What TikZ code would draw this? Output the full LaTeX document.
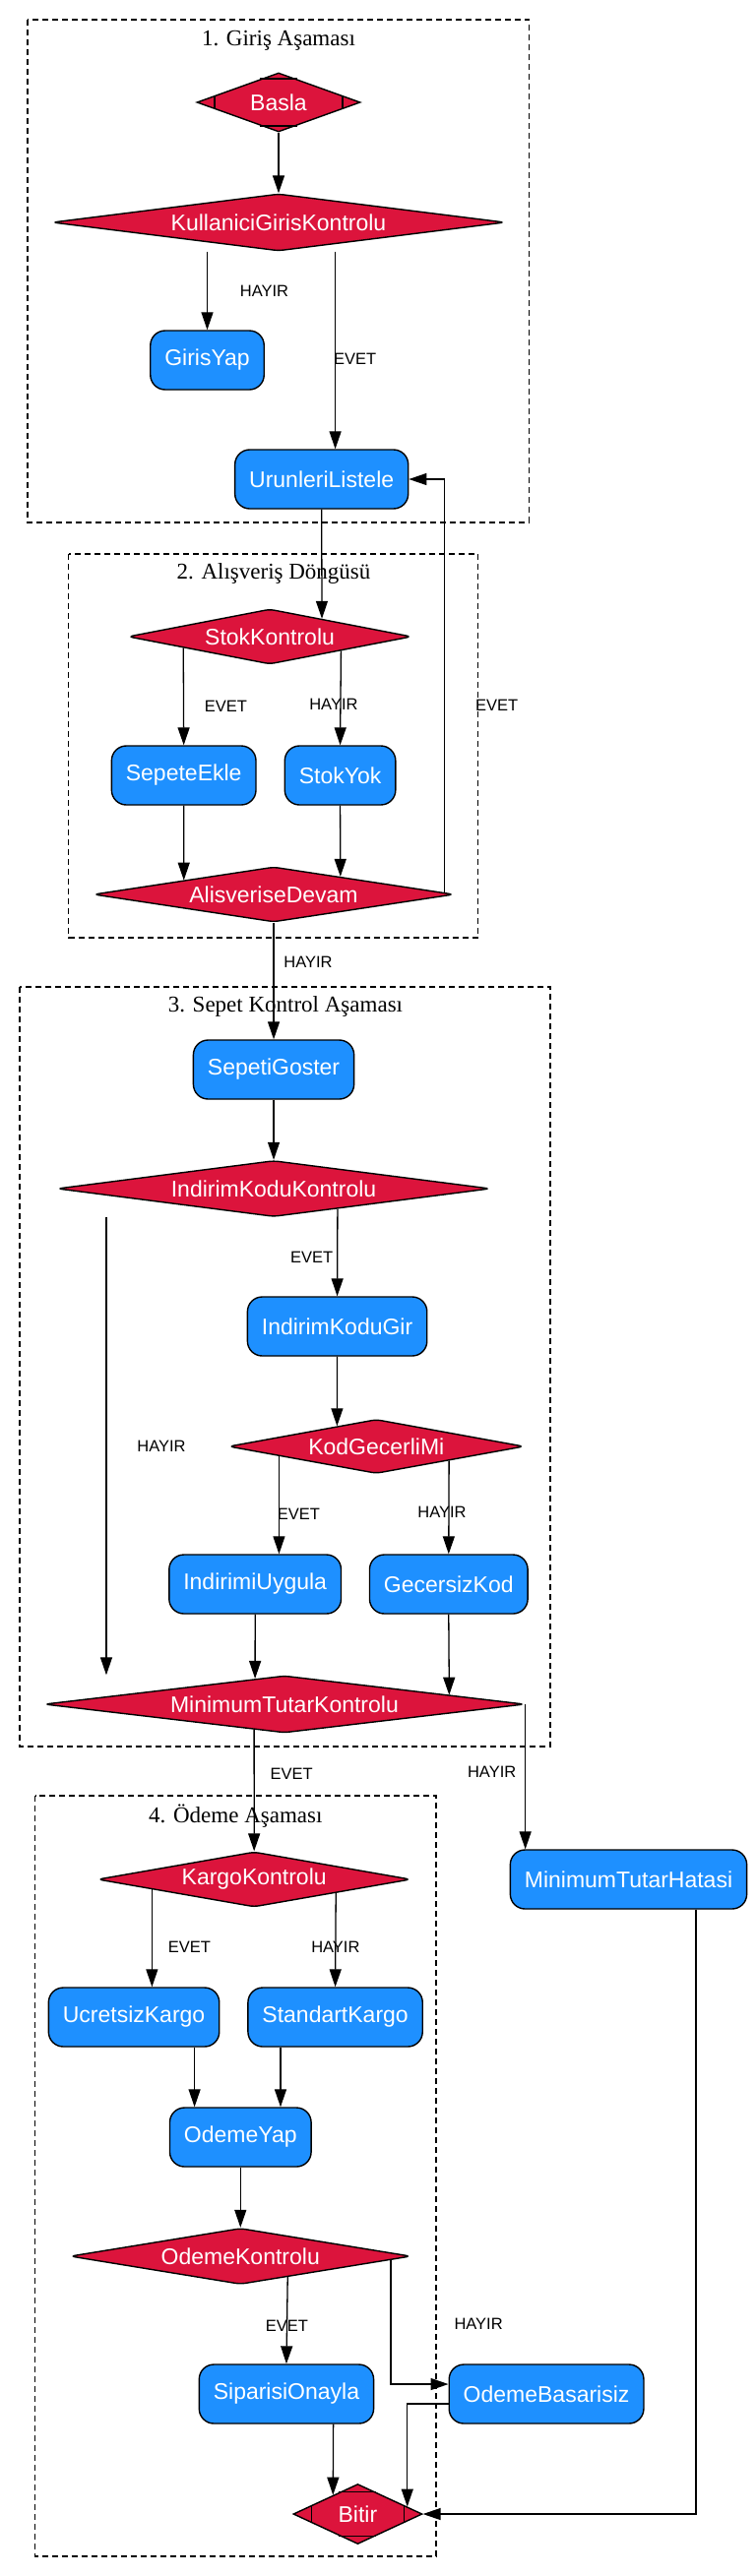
\documentclass[tikz,border=0pt]{standalone}
\usepackage{fontspec}
\setmainfont{Liberation Serif}
\setsansfont{Liberation Sans}
\usepackage{xcolor}
\usetikzlibrary{shapes.geometric}
\usetikzlibrary{arrows.meta}
\usetikzlibrary{calc}

\definecolor{kirmizi}{HTML}{DC143C}
\definecolor{mavi}{HTML}{1E90FF}

\begin{document}
\begin{tikzpicture}[x=0.993pt, y=-1pt,
  every node/.style={font=\sffamily\fontsize{23}{26}\selectfont},
  box/.style={rectangle, rounded corners=15pt, draw=black, line width=1.4pt, fill=mavi, text=white, inner xsep=14.5pt, minimum height=60pt},
  karar/.style={diamond, rounded corners=5pt, draw=black, line width=1.4pt, fill=kirmizi, text=white, inner sep=0pt},
  ucnokta/.style={diamond, draw=black, line width=1.4pt, fill=kirmizi, text=white, inner sep=0pt},
  grup/.style={draw=black, dashed, dash pattern=on 6pt off 4pt, line width=1.4pt},
  baslik/.style={font=\rmfamily\fontsize{23}{26}\selectfont},
  etiket/.style={font=\sffamily\fontsize{16.5}{19}\selectfont, inner sep=0pt},
  ok/.style={line width=1.3pt, -{Triangle[length=18pt, width=12pt]}}]
  \useasboundingbox (0,0) rectangle (773.4,2618);

  % asama kutulari
  \draw[grup] (28,20) rectangle (541,531);
  \draw[grup] (70,563) rectangle (489,953);
  \draw[grup] (20,1003) rectangle (563,1775);
  \draw[grup] (36,1825) rectangle (446,2598);
  \node[baslik] (b1) at (285,41) {1. Giriş Aşaması};
  \node[baslik] (b2) at (280,583) {2. Alışveriş Döngüsü};
  \node[baslik] (b3) at (292,1023) {3. Sepet Kontrol Aşaması};
  \node[baslik] (b4) at (241,1846) {4. Ödeme Aşaması};

  % 1. giris
  \node[ucnokta, minimum width=166pt, minimum height=60pt, aspect=2.8] (basla) at (285,104) {Basla};
  \node[karar, minimum width=460pt, minimum height=58pt, aspect=8] (kgk) at (285,226) {KullaniciGirisKontrolu};
  \node[box] (girisyap) at (212,366) {GirisYap};
  \node[box] (urun) at (329,487) {UrunleriListele};
  % 2. alisveris
  \node[karar, minimum width=288pt, minimum height=56pt, aspect=5.2] (stok) at (276,647) {StokKontrolu};
  \node[box] (sepete) at (188,788) {SepeteEkle};
  \node[box] (stokyok) at (348,788) {StokYok};
  \node[karar, minimum width=366pt, minimum height=56pt, aspect=6.6] (devam) at (280,909) {AlisveriseDevam};
  % 3. sepet
  \node[box] (sepeti) at (280,1087) {SepetiGoster};
  \node[karar, minimum width=440pt, minimum height=57pt, aspect=7.8] (ikk) at (280,1208) {IndirimKoduKontrolu};
  \node[box] (ikgir) at (345,1348) {IndirimKoduGir};
  \node[karar, minimum width=300pt, minimum height=55pt, aspect=5.5] (kgm) at (385,1470) {KodGecerliMi};
  \node[box] (uygula) at (261,1610) {IndirimiUygula};
  \node[box] (gecersiz) at (459,1610) {GecersizKod};
  \node[karar, minimum width=488pt, minimum height=58pt, aspect=8.5] (mtk) at (291,1732) {MinimumTutarKontrolu};
  \node[box] (hata) at (643,1910) {MinimumTutarHatasi};
  % 4. odeme
  \node[karar, minimum width=318pt, minimum height=56pt, aspect=5.7] (kargo) at (260,1910) {KargoKontrolu};
  \node[box] (ucretsiz) at (137,2050) {UcretsizKargo};
  \node[box] (standart) at (343,2050) {StandartKargo};
  \node[box] (odemeyap) at (246,2172) {OdemeYap};
  \node[karar, minimum width=346pt, minimum height=57pt, aspect=6.1] (odemek) at (246,2293) {OdemeKontrolu};
  \node[box] (onayla) at (293,2433) {SiparisiOnayla};
  \node[box] (basarisiz) at (559,2433) {OdemeBasarisiz};
  \node[ucnokta, minimum width=131pt, minimum height=61pt, aspect=2.2] (bitir) at (366,2555) {Bitir};

  % baslangic ve bitis koseleri
  \foreach \n/\d in {basla/20pt, bitir/21pt} {
    \draw[line width=1.4pt] ($(\n.north)!\d!(\n.west)$) -- ($(\n.north)!\d!(\n.east)$);
    \draw[line width=1.4pt] ($(\n.south)!\d!(\n.west)$) -- ($(\n.south)!\d!(\n.east)$);
    \draw[line width=1.4pt] ($(\n.west)!\d!(\n.north)$) -- ($(\n.west)!\d!(\n.south)$);
    \draw[line width=1.4pt] ($(\n.east)!\d!(\n.north)$) -- ($(\n.east)!\d!(\n.south)$);
  }

  % baglantilar
  \draw[ok] (basla) -- (kgk);
  \draw[ok] (girisyap.north |- kgk.south) -- (girisyap) node[etiket, midway, xshift=58pt] (e1) {HAYIR};
  \coordinate (k1) at ($(urun.north)+(14,0)$);
  \draw[ok] (k1 |- kgk.south) -- (k1) node[etiket, pos=.545, xshift=20pt] (e2) {EVET};
  \draw[ok] (urun.south) -- ($(stok.north)!.366!(stok.east)$);
  \draw[ok] ($(stok.south)!.607!(stok.west)$) -- (sepete.north) node[etiket, pos=.6, xshift=43pt] (e3) {EVET};
  \draw[ok] ($(stok.south)!.5!(stok.east)$) -- (stokyok.north) node[etiket, pos=.57, xshift=-7pt] (e4) {HAYIR};
  \draw[ok] (sepete.south) -- ($(devam.north)!.497!(devam.west)$);
  \draw[ok] (stokyok.south) -- ($(devam.north)!.369!(devam.east)$);
  \draw[ok] ($(devam.east)!.055!(devam.north)$) |- (urun.east) node[etiket, pos=.227, xshift=53pt] (e5) {EVET};
  \draw[ok] (devam) -- (sepeti) node[etiket, pos=.34, xshift=35pt] (e6) {HAYIR};
  \draw[ok] (sepeti) -- (ikk);
  \draw[ok] ($(ikk.south)!.294!(ikk.east)$) -- (ikgir.north) node[etiket, pos=.55, xshift=-26pt] (e7) {EVET};
  \coordinate (h1) at ($(ikk.west |- ikk.south)+(51,0)$);
  \draw[ok] (h1) -- (h1 |- mtk.north) node[etiket, midway, xshift=56pt] (e8) {HAYIR};
  \draw[ok] (ikgir.south) -- ($(kgm.north)!.265!(kgm.west)$);
  \coordinate (g1) at ($(kgm.south)!.656!(kgm.west)$);
  \draw[ok] (g1) -- (g1 |- uygula.north) node[etiket, pos=.59, xshift=20pt] (e9) {EVET};
  \draw[ok] ($(kgm.south)!.49!(kgm.east)$) -- (gecersiz.north) node[etiket, pos=.55, xshift=-7pt] (e10) {HAYIR};
  \draw[ok] (uygula.south) -- ($(mtk.north)!.122!(mtk.west)$);
  \draw[ok] (gecersiz.south) -- ($(mtk.north)!.684!(mtk.east)$);
  \draw[ok] ($(mtk.south)!.126!(mtk.west)$) -- (kargo.north) node[etiket, pos=.36, xshift=38pt] (e11) {EVET};
  \draw[ok] (mtk.east) -- (mtk.east |- hata.north) node[etiket, pos=.47, xshift=-34pt] (e12) {HAYIR};
  \coordinate (g2) at ($(kargo.south)!.65!(kargo.west)$);
  \draw[ok] (g2) -- (g2 |- ucretsiz.north) node[etiket, pos=.59, xshift=38pt] (e13) {EVET};
  \draw[ok] ($(kargo.south)!.52!(kargo.east)$) -- (standart.north) node[etiket, pos=.58] (e14) {HAYIR};
  \coordinate (g3) at ($(odemeyap.north)+(-47,0)$);
  \coordinate (g4) at ($(odemeyap.north)+(41,0)$);
  \draw[ok] (g3 |- ucretsiz.south) -- (g3);
  \draw[ok] (g4 |- standart.south) -- (g4);
  \draw[ok] (odemeyap) -- (odemek);
  \draw[ok] ($(odemek.south)!.276!(odemek.east)$) -- (onayla.north) node[etiket, pos=.56] (e15) {EVET};
  \draw[ok] ($(odemek.south)!.88!(odemek.east)$) |- ($(basarisiz.west)+(0,-10)$) node[etiket, pos=.26, xshift=89pt] (e16) {HAYIR};
  \draw[ok] ($(onayla.south)+(48,0)$) -- ($(bitir.north)!.38!(bitir.west)$);
  \draw[ok] ($(basarisiz.west)+(0,10)$) -| ($(bitir.north)!.76!(bitir.east)$);
  \draw[ok] ($(hata.south)+(69,0)$) |- (bitir.east);
\end{tikzpicture}
\end{document}
